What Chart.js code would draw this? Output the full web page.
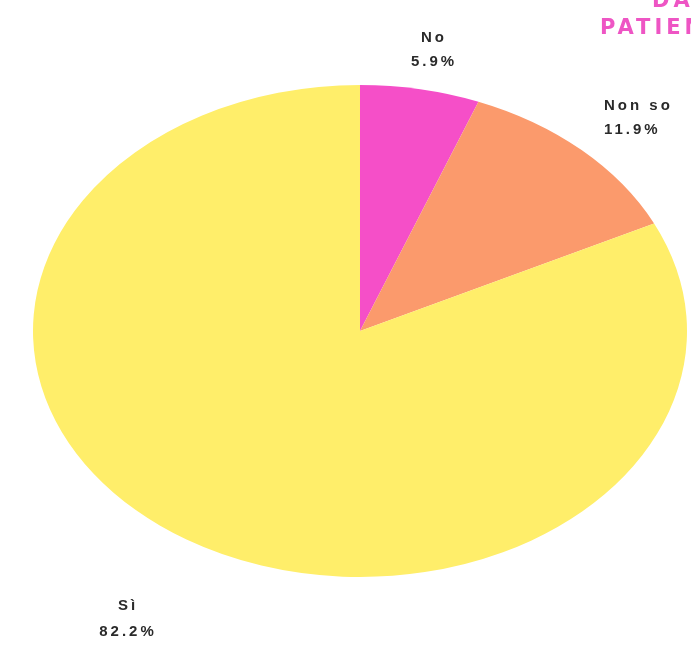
<!DOCTYPE html>
<html>
<head>
<meta charset="utf-8">
<script src="https://cdn.jsdelivr.net/npm/chart.js@4"></script>
<style>
  html, body { margin: 0; padding: 0; background: #ffffff; overflow: hidden; }
  #wrap { position: relative; width: 691px; height: 661px; overflow: hidden; }
  canvas { position: absolute; left: 0; top: 0; }
  .title { position: absolute; font-family: "DejaVu Sans", sans-serif; font-weight: bold; color: #ee55c4; font-size: 21px; letter-spacing: 4px; white-space: nowrap; }
</style>
</head>
<body>
<div id="wrap">
  <canvas id="c" width="691" height="661"></canvas>
  <div class="title" style="left:652px; top:-12px;">DATI</div>
  <div class="title" style="left:600px; top:15px;">PATIENTI</div>
</div>
<script>
const categories = ["No", "Non so", "Sì"];
const values = [5.9, 11.9, 82.2];
const colors = ["#f54fc8", "#fb9a6c", "#ffee6a"];
const labelPos = [[434, 38, 62], [604, 106, 130], [128, 606, 632]];
const ySquash = 246 / 327;

const ellipsePlugin = {
  id: 'ellipse',
  beforeDatasetsDraw(chart) {
    const ctx = chart.ctx;
    const meta = chart.getDatasetMeta(0);
    const cy = meta.data[0].y;
    ctx.save();
    ctx.translate(0, cy);
    ctx.scale(1, ySquash);
    ctx.translate(0, -cy);
  },
  afterDatasetsDraw(chart) {
    chart.ctx.restore();
  }
};

const labelPlugin = {
  id: 'pielabels',
  afterDraw(chart) {
    const ctx = chart.ctx;
    const data = chart.data.datasets[0].data;
    ctx.save();
    ctx.fillStyle = '#2a2a2a';
    ctx.font = 'bold 15px "Liberation Sans", Arial, sans-serif';
    ctx.textBaseline = 'middle';
    chart.data.labels.forEach((lab, i) => {
      const p = labelPos[i];
      const pct = data[i].toFixed(1) + '%';
      ctx.textAlign = i === 1 ? 'left' : 'center';
      ctx.letterSpacing = '3px';
      ctx.fillText(lab, p[0], p[1]);
      ctx.fillText(pct, p[0], p[2]);
    });
    ctx.restore();
  }
};

new Chart(document.getElementById('c'), {
  type: 'pie',
  data: {
    labels: categories,
    datasets: [{
      data: values,
      backgroundColor: colors,
      borderWidth: 0
    }]
  },
  options: {
    responsive: false,
    animation: false,
    layout: { padding: { left: 33, right: 4, top: 4, bottom: 3 } },
    plugins: { legend: { display: false }, tooltip: { enabled: false } }
  },
  plugins: [ellipsePlugin, labelPlugin]
});
</script>
</body>
</html>
